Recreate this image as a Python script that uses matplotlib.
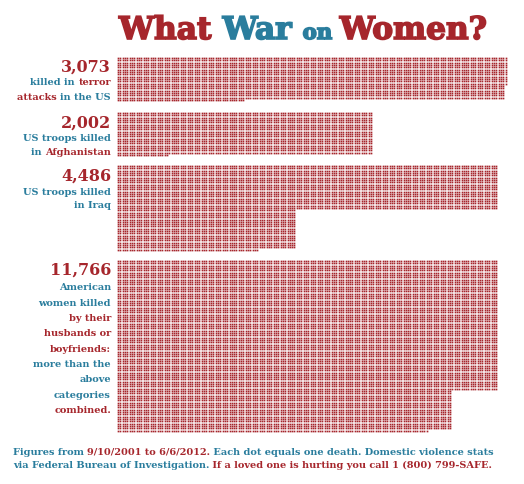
import matplotlib
matplotlib.use("Agg")
import matplotlib.pyplot as plt
import matplotlib.patheffects as pe
import numpy as np

RED = "#a6262c"
BLUE = "#2a7d9d"
FONT = "DejaVu Serif"

# data: one dot per death
values = [3073, 2002, 4486, 11766]
value_labels = ["3,073", "2,002", "4,486", "11,766"]
captions = [
    [[("killed in ", BLUE), ("terror", RED)],
     [("attacks ", RED), ("in the US", BLUE)]],
    [[("US troops killed", BLUE)],
     [("in ", BLUE), ("Afghanistan", RED)]],
    [[("US troops killed", BLUE)],
     [("in Iraq", BLUE)]],
    [[("American", BLUE)],
     [("women killed", BLUE)],
     [("by their", RED)],
     [("husbands or", RED)],
     [("boyfriends:", RED)],
     [("more than the", BLUE)],
     [("above", BLUE)],
     [("categories", BLUE)],
     [("combined.", RED)]],
]
title_runs = [("What ", RED, 1.0), ("War ", BLUE, 1.0), ("on ", BLUE, 0.68), ("Women?", RED, 1.0)]
footer = [
    [("Figures from ", BLUE), ("9/10/2001 to 6/6/2012.", RED),
     (" Each dot equals one death. Domestic violence stats", BLUE)],
    [("via Federal Bureau of Investigation.", BLUE),
     (" If a loved one is hurting you call 1 (800) 799-SAFE.", RED)],
]

# layout of each dot block (pixels): top edge, and (columns, rows) segments
pitch = 2.32
left = 117
block_tops = [58, 113, 166, 261]
block_shapes = [[(168, 12), (167, None)],
                [(110, None)],
                [(164, 19), (77, None)],
                [(164, 56), (144, None)]]
# text baselines (pixels)
label_rows = [[72, 85, 100], [128, 141, 155], [181, 195, 208],
              [275, 290, 306, 321, 336, 352, 367, 382, 398, 413]]

fig = plt.figure(figsize=(5.24, 4.85), dpi=100)
ax = fig.add_axes([0, 0, 1, 1])
ax.set_xlim(0, 524)
ax.set_ylim(485, 0)
ax.axis("off")
renderer = fig.canvas.get_renderer()


def text_width(s, size):
    t = ax.text(0, 0, s + "|", fontsize=size, family=FONT, weight="bold")
    w = t.get_window_extent(renderer).width
    t.remove()
    t = ax.text(0, 0, "|", fontsize=size, family=FONT, weight="bold")
    w -= t.get_window_extent(renderer).width
    t.remove()
    return w


def fit_size(s, target, start=10):
    return start * target / text_width(s, start)


def draw_runs(x, y, runs, size, align="left", heavy=0.0):
    widths = [text_width(r[0], size * (r[2] if len(r) > 2 else 1)) for r in runs]
    x0 = x - sum(widths) if align == "right" else x
    for r, w in zip(runs, widths):
        sz = size * (r[2] if len(r) > 2 else 1)
        fx = None
        if heavy:
            fx = [pe.PathPatchEffect(edgecolor=r[1], facecolor=r[1], linewidth=heavy)]
        ax.text(x0, y, r[0], color=r[1], fontsize=sz, family=FONT,
                weight="bold", ha="left", va="baseline", path_effects=fx)
        x0 += w


# dots
for v, top, shape in zip(values, block_tops, block_shapes):
    xs, ys = [], []
    row = 0
    left_over = v
    for cols, rows in shape:
        while left_over > 0 and (rows is None or rows > 0):
            n = min(cols, left_over)
            xs.extend(left + (np.arange(n) + 0.5) * pitch)
            ys.extend([top + (row + 0.5) * pitch] * n)
            left_over -= n
            row += 1
            if rows is not None:
                rows -= 1
    ax.scatter(xs, ys, s=1.5, marker="s", color=RED, linewidths=0, snap=False)

# title
title_text = "".join(r[0] for r in title_runs)
tsize = fit_size(title_text, 385, 20)
draw_runs(119, 40, title_runs, tsize, heavy=1.2)

# labels
num_size = fit_size("11,766", 62, 14)
cap_size = fit_size("attacks in the US", 95, 8)
for lab, cap, rows in zip(value_labels, captions, label_rows):
    draw_runs(111, rows[0], [(lab, RED)], num_size, align="right")
    for line, y in zip(cap, rows[1:]):
        draw_runs(111, y, line, cap_size, align="right")

# footer
foot_size = fit_size("".join(r[0] for r in footer[0]), 486, 8)
draw_runs(13, 455, footer[0], foot_size)
draw_runs(13, 468, footer[1], foot_size)

fig.savefig("out.png", dpi=100, facecolor="white")
